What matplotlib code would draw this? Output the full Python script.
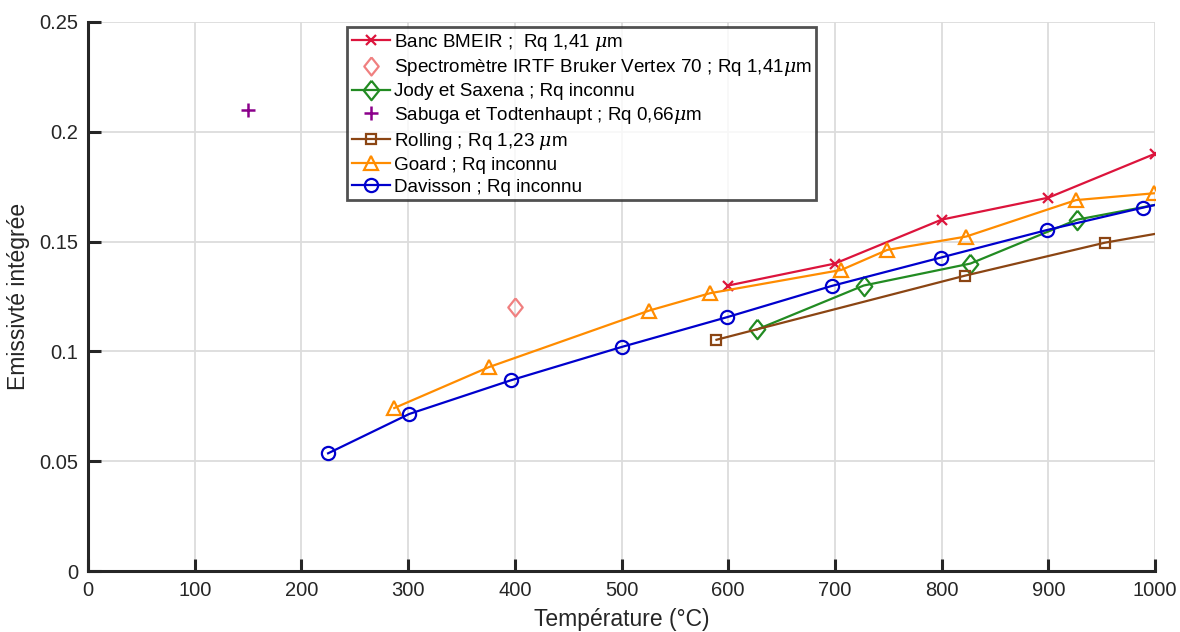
import matplotlib
matplotlib.use('Agg')
import matplotlib.pyplot as plt

plt.rcParams['font.family'] = ['Liberation Sans', 'DejaVu Sans']
plt.rcParams['mathtext.fontset'] = 'dejavuserif'

# data
banc_t = [600, 700, 800, 900, 1000]
banc_e = [0.130, 0.140, 0.160, 0.170, 0.190]

spectro_t = [400]
spectro_e = [0.120]

jody_t = [627, 727, 827, 927, 1000]
jody_e = [0.110, 0.130, 0.140, 0.160, 0.1667]

sabuga_t = [150]
sabuga_e = [0.210]

rolling_t = [589, 822, 953, 1000]
rolling_e = [0.1053, 0.1345, 0.1495, 0.1535]

goard_t = [287, 376, 526, 583, 706, 749, 823, 926, 999]
goard_e = [0.0742, 0.0929, 0.1186, 0.1265, 0.1371, 0.1462, 0.1523, 0.1689, 0.1720]

davisson_t = [225, 301, 396, 500, 599, 697, 799, 899, 989, 1000]
davisson_e = [0.0536, 0.0715, 0.0868, 0.1020, 0.1156, 0.1298, 0.1427, 0.1553, 0.1655, 0.1667]

labels = ['Banc BMEIR ;  Rq 1,41 $\\mu$m',
          'Spectromètre IRTF Bruker Vertex 70 ; Rq 1,41$\\mu$m',
          'Jody et Saxena ; Rq inconnu',
          'Sabuga et Todtenhaupt ; Rq 0,66$\\mu$m',
          'Rolling ; Rq 1,23 $\\mu$m',
          'Goard ; Rq inconnu',
          'Davisson ; Rq inconnu']

# matlab-like diamond (wider than mpl 'd')
diamond = [(0, 1), (0.8, 0), (0, -1), (-0.8, 0), (0, 1)]

fig = plt.figure(figsize=(11.8, 6.32), dpi=100)
ax = fig.add_axes([0.0746, 0.0965, 0.9042, 0.8687])

lw = 1.6
ax.plot(banc_t, banc_e, color='#DC143C', lw=lw, marker='x', ms=6.5, mew=1.6, label=labels[0])
ax.plot(spectro_t, spectro_e, ls='none', color='#F08080', marker=diamond, ms=13, mfc='none', mew=1.6, label=labels[1])
ax.plot(jody_t, jody_e, color='#228B22', lw=lw, marker=diamond, ms=14, mfc='none', mew=1.6,
        markevery=slice(0, -1), label=labels[2])
ax.plot(sabuga_t, sabuga_e, ls='none', color='#8B008B', marker='+', ms=10, mew=1.8, label=labels[3])
ax.plot(rolling_t, rolling_e, color='#8B4513', lw=lw, marker='s', ms=6.5, mfc='none', mew=1.6,
        markevery=slice(0, -1), label=labels[4])
ax.plot(goard_t, goard_e, color='#FF8C00', lw=lw, marker='^', ms=10, mfc='none', mew=1.6, label=labels[5])
ax.plot(davisson_t, davisson_e, color='#0000CD', lw=lw, marker='o', ms=9.5, mfc='none', mew=1.6,
        markevery=slice(0, -1), label=labels[6])

ax.set_xlim(0, 1000)
ax.set_ylim(0, 0.25)
ax.set_xticks(range(0, 1001, 100))
ax.set_yticks([0, 0.05, 0.1, 0.15, 0.2, 0.25])
ax.set_yticklabels(['0', '0.05', '0.1', '0.15', '0.2', '0.25'])
ax.grid(True, color='#DCDCDC', lw=1.3)
ax.set_axisbelow(True)

for s in ['top', 'right']:
    ax.spines[s].set_visible(False)
for s in ['left', 'bottom']:
    ax.spines[s].set_linewidth(2.2)
    ax.spines[s].set_color('#262626')
ax.tick_params(direction='in', length=9, width=2.2, color='#262626',
               labelsize=14.5, labelcolor='#262626', pad=7)

ax.set_xlabel('Température (°C)', fontsize=16.5, color='#262626', labelpad=6)
ax.set_ylabel('Emissivté intégrée', fontsize=16.5, color='#262626', labelpad=7)

leg = ax.legend(loc='upper left', bbox_to_anchor=(0.243, 0.991), fontsize=13.6,
                frameon=True, fancybox=False, handlelength=2.0, handletextpad=0.2,
                borderpad=0.25, labelspacing=0.25, borderaxespad=0)
leg.get_frame().set_edgecolor('#262626')
leg.get_frame().set_linewidth(2)

fig.savefig('out.png', dpi=100)
